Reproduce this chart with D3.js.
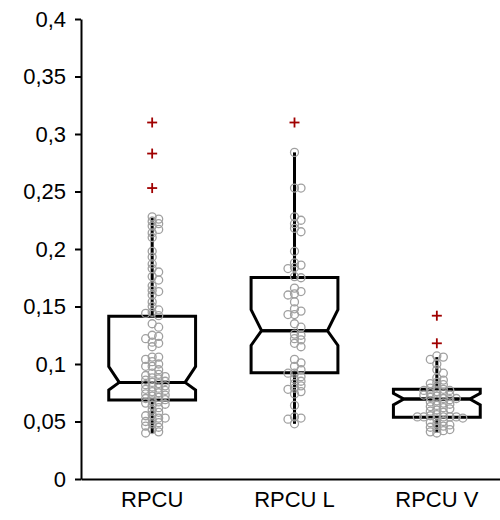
<!DOCTYPE html>
<html>
<head>
<meta charset="utf-8">
<script src="https://cdn.jsdelivr.net/npm/d3@7"></script>
<style>
    body { margin: 0; background: #fff; }
    .axis text { font-family: "Liberation Sans", Arial, sans-serif; font-size: 22px; fill: #000; }
    .axis path, .axis line { stroke: #000; stroke-width: 2px; }
    .box { fill: none; stroke: #000; stroke-width: 3px; stroke-linejoin: miter; }
    .whisker { stroke: #000; stroke-width: 3px; }
    .pt { fill: none; stroke: #a0a0a0; stroke-width: 1.3px; }
    .outlier { stroke: #a00000; stroke-width: 1.8px; }
</style>
</head>
<body>
<div id="chart"></div>
<script>
    // categories
    var groups = ["RPCU", "RPCU L", "RPCU V"];

    // box statistics
    var q1 = [0.0687, 0.0925, 0.0536];
    var median = [0.0840, 0.1290, 0.0696];
    var q3 = [0.1415, 0.1752, 0.0780];
    var notchLo = [0.0774, 0.1162, 0.0645];
    var notchHi = [0.0977, 0.1472, 0.0745];
    var whiskerLo = [0.040, 0.048, 0.040];
    var whiskerHi = [0.228, 0.284, 0.106];

    // outliers (red crosses)
    var outliers = [
        [0.310, 0.283, 0.253],
        [0.310],
        [0.142, 0.118]
    ];

    // individual observations
    var pointsRPCU = [0.228, 0.226, 0.224, 0.222, 0.220, 0.217, 0.214, 0.210,
        0.198, 0.193, 0.187, 0.183, 0.180, 0.176, 0.173, 0.168,
        0.164, 0.163, 0.160, 0.154, 0.150,
        0.147, 0.145, 0.144, 0.142, 0.135, 0.132,
        0.125, 0.124, 0.122, 0.119, 0.118, 0.115,
        0.106, 0.106, 0.104, 0.102, 0.100, 0.098, 0.098, 0.095, 0.092,
        0.091, 0.090, 0.089, 0.088, 0.087, 0.086, 0.085, 0.084, 0.083, 0.082, 0.081, 0.080,
        0.079, 0.078, 0.077, 0.076, 0.075, 0.074, 0.073, 0.072, 0.071, 0.070, 0.069, 0.068,
        0.067, 0.066, 0.065, 0.064, 0.062, 0.060,
        0.058, 0.056, 0.055, 0.053, 0.053, 0.052, 0.050, 0.049, 0.048, 0.046, 0.045, 0.043, 0.041, 0.040];
    var pointsRPCUL = [0.284, 0.253, 0.253, 0.228, 0.225, 0.222, 0.218, 0.215, 0.198,
        0.188, 0.186, 0.184, 0.183, 0.176, 0.175, 0.166, 0.163, 0.161, 0.160, 0.154,
        0.148, 0.146, 0.143, 0.143, 0.135, 0.132, 0.126, 0.125, 0.122, 0.121, 0.118, 0.115,
        0.104, 0.101, 0.098, 0.095, 0.092, 0.092, 0.089, 0.087, 0.085, 0.083, 0.081, 0.079,
        0.078, 0.076, 0.074, 0.064, 0.054, 0.053, 0.052, 0.048];
    var pointsRPCUV = [0.107, 0.106, 0.104, 0.100, 0.095, 0.092, 0.088, 0.086, 0.084, 0.083,
        0.082, 0.080, 0.079, 0.078, 0.077, 0.077, 0.076, 0.075, 0.074, 0.073, 0.073, 0.072,
        0.071, 0.070, 0.070, 0.069, 0.068, 0.067, 0.066, 0.065, 0.064, 0.063, 0.062, 0.061,
        0.060, 0.059, 0.058, 0.056, 0.055, 0.054, 0.054, 0.054, 0.054, 0.054, 0.053, 0.052,
        0.050, 0.049, 0.048, 0.047, 0.046, 0.045, 0.044, 0.043, 0.042, 0.041, 0.040];
    var points = [pointsRPCU, pointsRPCUL, pointsRPCUV];

    var yTicks = [0, 0.05, 0.1, 0.15, 0.2, 0.25, 0.3, 0.35, 0.4];

    var width = 500, height = 520;
    var margin = { top: 19, right: -8, bottom: 41, left: 81 };

    var svg = d3.select("#chart").append("svg")
        .attr("width", width)
        .attr("height", height);

    var x = d3.scaleBand()
        .domain(groups)
        .range([margin.left, width - margin.right])
        .padding(0);

    var y = d3.scaleLinear()
        .domain([0, 0.4])
        .range([height - margin.bottom, margin.top]);

    var fmt = function (d) { return String(d).replace(".", ","); };

    var boxW = x.bandwidth() * 0.61;
    var notchIn = 10.5;
    var r = 4;

    groups.forEach(function (g, i) {
        var cx = x(g) + x.bandwidth() / 2;
        var g0 = svg.append("g").attr("class", "grp");

        // whiskers
        g0.append("line").attr("class", "whisker")
            .attr("x1", cx).attr("x2", cx)
            .attr("y1", y(q3[i])).attr("y2", y(whiskerHi[i]));
        g0.append("line").attr("class", "whisker")
            .attr("x1", cx).attr("x2", cx)
            .attr("y1", y(q1[i])).attr("y2", y(whiskerLo[i]));

        // notched box: upper and lower halves
        var L = cx - boxW / 2, R = cx + boxW / 2;
        var top = d3.path();
        top.moveTo(L + notchIn, y(median[i]));
        top.lineTo(L, y(notchHi[i]));
        top.lineTo(L, y(q3[i]));
        top.lineTo(R, y(q3[i]));
        top.lineTo(R, y(notchHi[i]));
        top.lineTo(R - notchIn, y(median[i]));
        top.closePath();
        g0.append("path").attr("class", "box").attr("d", top.toString());

        var bot = d3.path();
        bot.moveTo(L + notchIn, y(median[i]));
        bot.lineTo(L, y(notchLo[i]));
        bot.lineTo(L, y(q1[i]));
        bot.lineTo(R, y(q1[i]));
        bot.lineTo(R, y(notchLo[i]));
        bot.lineTo(R - notchIn, y(median[i]));
        bot.closePath();
        g0.append("path").attr("class", "box").attr("d", bot.toString());

        // observations, spread sideways where they crowd
        var placed = [];
        var step = 6.5;
        var sorted = points[i].slice().sort(d3.descending);
        sorted.forEach(function (v) {
            var py = y(v);
            for (var k = 0; k < 12; k++) {
                var slot = k === 0 ? 0 : (k % 2 ? 1 : -1) * Math.ceil(k / 2);
                var busy = placed.some(function (p) {
                    return p.slot === slot && Math.abs(p.y - py) < 4.2;
                });
                if (!busy) {
                    placed.push({ slot: slot, y: py });
                    break;
                }
            }
        });
        g0.selectAll("circle.pt").data(placed).enter()
            .append("circle").attr("class", "pt")
            .attr("cx", function (d) { return cx + d.slot * step; })
            .attr("cy", function (d) { return d.y; })
            .attr("r", r);

        // outliers
        var cross = g0.selectAll("g.out").data(outliers[i]).enter()
            .append("g").attr("class", "out")
            .attr("transform", function (d) { return "translate(" + cx + "," + y(d) + ")"; });
        cross.append("line").attr("class", "outlier").attr("x1", -5).attr("x2", 5);
        cross.append("line").attr("class", "outlier").attr("y1", -5).attr("y2", 5);
    });

    svg.append("g")
        .attr("class", "axis")
        .attr("transform", "translate(" + margin.left + ",0)")
        .call(d3.axisLeft(y).tickValues(yTicks).tickFormat(fmt).tickSize(6).tickPadding(9).tickSizeOuter(0));

    svg.append("g")
        .attr("class", "axis")
        .attr("transform", "translate(0," + (height - margin.bottom) + ")")
        .call(d3.axisBottom(x).tickSize(0).tickPadding(12).tickSizeOuter(0));
</script>
</body>
</html>
